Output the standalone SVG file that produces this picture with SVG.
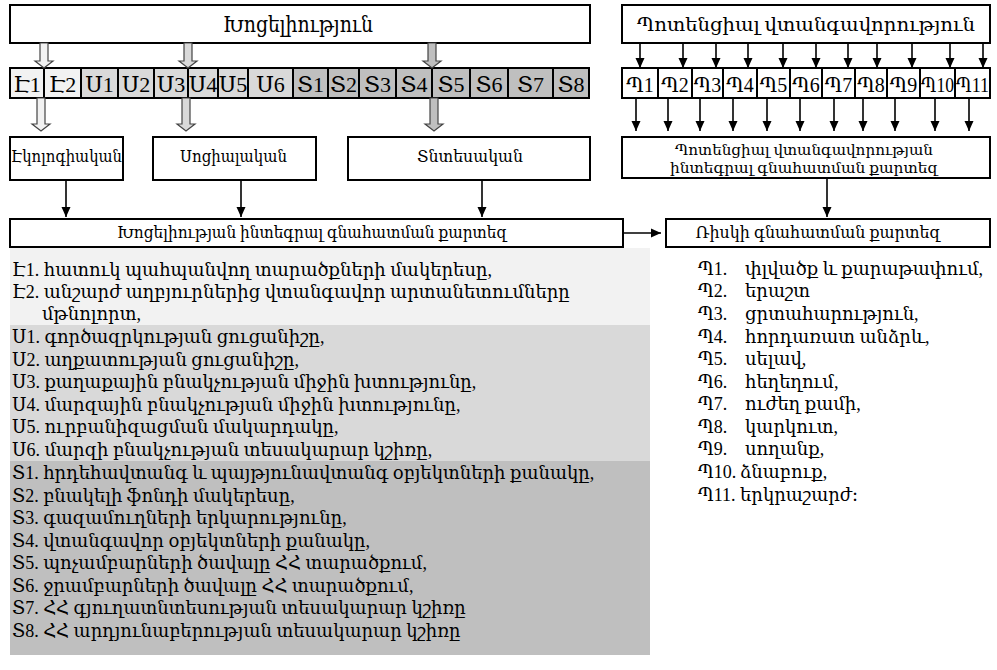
<svg xmlns="http://www.w3.org/2000/svg" width="997" height="670" viewBox="0 0 997 670">
<style>
text{font-family:"Liberation Serif","DejaVu Serif",serif;fill:#000}
.box{fill:#fff;stroke:#000;stroke-width:2}
.ce{fill:#f2f2f2;stroke:#000;stroke-width:2}
.cu{fill:#d9d9d9;stroke:#000;stroke-width:2}
.cs{fill:#bfbfbf;stroke:#000;stroke-width:2}
.cp{fill:#fff;stroke:#000;stroke-width:2}
.ct{font-size:22px;text-anchor:middle}
.pt{font-size:20px;text-anchor:middle}
.ln{stroke:#000;stroke-width:1.6;fill:none;marker-end:url(#ah)}
.ba{stroke:#444;stroke-width:1.2}
.li{font-size:18px}
</style>
<defs>
<marker id="ah" markerUnits="userSpaceOnUse" markerWidth="10" markerHeight="10" refX="10" refY="5" orient="auto">
<path d="M0,0.5 L10,5 L0,9.5 z" fill="#000"/>
</marker>
</defs>

<!-- list background bands -->
<rect x="10" y="248" width="640" height="77" fill="#f2f2f2"/>
<rect x="10" y="325" width="640" height="136" fill="#d9d9d9"/>
<rect x="10" y="461" width="640" height="194" fill="#bfbfbf"/>

<g id="vulnerability">
<rect class="box" x="10" y="5" width="580" height="38"/>
<text x="223" y="32" font-size="22" textLength="150" lengthAdjust="spacingAndGlyphs">Խոցելիություն</text>
</g>

<g id="hazard">
<rect class="box" x="622" y="5" width="368" height="38"/>
<text x="806" y="31" font-size="19" text-anchor="middle" textLength="338" lengthAdjust="spacingAndGlyphs">Պոտենցիալ վտանգավորություն</text>
</g>

<g id="indicators">
<rect class="ce" x="10" y="68" width="34" height="30"/><text class="ct" x="27" y="92">Է1</text>
<rect class="ce" x="44" y="68" width="37" height="30"/><text class="ct" x="62.5" y="92">Է2</text>
<rect class="cu" x="81" y="68" width="37" height="30"/><text class="ct" x="99.5" y="92">Ս1</text>
<rect class="cu" x="118" y="68" width="36" height="30"/><text class="ct" x="136" y="92">Ս2</text>
<rect class="cu" x="154" y="68" width="34" height="30"/><text class="ct" x="171" y="92">Ս3</text>
<rect class="cu" x="188" y="68" width="30" height="30"/><text class="ct" x="203" y="92">Ս4</text>
<rect class="cu" x="218" y="68" width="30" height="30"/><text class="ct" x="233" y="92">Ս5</text>
<rect class="cu" x="248" y="68" width="45" height="30"/><text class="ct" x="270.5" y="92">Ս6</text>
<rect class="cs" x="293" y="68" width="35" height="30"/><text class="ct" x="310.5" y="92">Տ1</text>
<rect class="cs" x="328" y="68" width="31" height="30"/><text class="ct" x="343.5" y="92">Տ2</text>
<rect class="cs" x="359" y="68" width="37" height="30"/><text class="ct" x="377.5" y="92">Տ3</text>
<rect class="cs" x="396" y="68" width="36" height="30"/><text class="ct" x="414" y="92">Տ4</text>
<rect class="cs" x="432" y="68" width="38" height="30"/><text class="ct" x="451" y="92">Տ5</text>
<rect class="cs" x="470" y="68" width="38" height="30"/><text class="ct" x="489" y="92">Տ6</text>
<rect class="cs" x="508" y="68" width="45" height="30"/><text class="ct" x="530.5" y="92">Տ7</text>
<rect class="cs" x="553" y="68" width="36" height="30"/><text class="ct" x="571" y="92">Տ8</text>
</g>

<g id="hazards">
<rect class="cp" x="622" y="68" width="36" height="30"/><text class="pt" x="640" y="92">Պ1</text>
<rect class="cp" x="658" y="68" width="34" height="30"/><text class="pt" x="675" y="92">Պ2</text>
<rect class="cp" x="692" y="68" width="31" height="30"/><text class="pt" x="707.5" y="92">Պ3</text>
<rect class="cp" x="723" y="68" width="34" height="30"/><text class="pt" x="740" y="92">Պ4</text>
<rect class="cp" x="757" y="68" width="33" height="30"/><text class="pt" x="773.5" y="92">Պ5</text>
<rect class="cp" x="790" y="68" width="32" height="30"/><text class="pt" x="806" y="92">Պ6</text>
<rect class="cp" x="822" y="68" width="33" height="30"/><text class="pt" x="838.5" y="92">Պ7</text>
<rect class="cp" x="855" y="68" width="32" height="30"/><text class="pt" x="871" y="92">Պ8</text>
<rect class="cp" x="887" y="68" width="33" height="30"/><text class="pt" x="903.5" y="92">Պ9</text>
<rect class="cp" x="920" y="68" width="35" height="30"/><text class="pt" x="937.5" y="92" textLength="33" lengthAdjust="spacingAndGlyphs">Պ10</text>
<rect class="cp" x="955" y="68" width="35" height="30"/><text class="pt" x="972.5" y="92" textLength="33" lengthAdjust="spacingAndGlyphs">Պ11</text>
</g>

<g id="ecological">
<rect class="box" x="10" y="137" width="113" height="43"/>
<text x="11" y="162" font-size="17" textLength="111" lengthAdjust="spacingAndGlyphs">Էկոլոգիական</text>
</g>
<g id="social">
<rect class="box" x="153" y="137" width="163" height="43"/>
<text x="180" y="162" font-size="17" textLength="107" lengthAdjust="spacingAndGlyphs">Սոցիալական</text>
</g>
<g id="economic">
<rect class="box" x="348" y="137" width="242" height="43"/>
<text x="417" y="162" font-size="17" textLength="106" lengthAdjust="spacingAndGlyphs">Տնտեսական</text>
</g>

<g id="hazard-map">
<rect class="box" x="622" y="137" width="368" height="41"/>
<text x="804" y="155" font-size="15.5" text-anchor="middle" textLength="258" lengthAdjust="spacingAndGlyphs">Պոտենցիալ վտանգավորության</text>
<text x="804" y="173" font-size="15.5" text-anchor="middle" textLength="268" lengthAdjust="spacingAndGlyphs">ինտեգրալ գնահատման քարտեզ</text>
</g>

<g id="vulnerability-map">
<rect class="box" x="10" y="219" width="613" height="28"/>
<text x="312" y="238" font-size="16" text-anchor="middle" textLength="390" lengthAdjust="spacingAndGlyphs">Խոցելիության ինտեգրալ գնահատման քարտեզ</text>
</g>

<g id="risk-map">
<rect class="box" x="666" y="219" width="324" height="28"/>
<text x="818" y="238" font-size="16" text-anchor="middle" textLength="245" lengthAdjust="spacingAndGlyphs">Ռիսկի գնահատման քարտեզ</text>
</g>

<g id="connectors">
<polygon class="ba" fill="#f2f2f2" points="40,43 48,43 48,61 53,61 44,68 35,61 40,61"/>
<polygon class="ba" fill="#d9d9d9" points="184,43 192,43 192,61 197,61 188,68 179,61 184,61"/>
<polygon class="ba" fill="#bfbfbf" points="428,43 436,43 436,61 441,61 432,68 423,61 428,61"/>
<polygon class="ba" fill="#f2f2f2" points="37,98 45,98 45,124 50,124 41,131 32,124 37,124"/>
<polygon class="ba" fill="#d9d9d9" points="182,98 190,98 190,124 195,124 186,131 177,124 182,124"/>
<polygon class="ba" fill="#bfbfbf" points="430,98 438,98 438,124 443,124 434,131 425,124 430,124"/>
<line class="ln" x1="640" y1="43" x2="640" y2="68"/>
<line class="ln" x1="683" y1="43" x2="683" y2="68"/>
<line class="ln" x1="716" y1="43" x2="716" y2="68"/>
<line class="ln" x1="748" y1="43" x2="748" y2="68"/>
<line class="ln" x1="783" y1="43" x2="783" y2="68"/>
<line class="ln" x1="816" y1="43" x2="816" y2="68"/>
<line class="ln" x1="848" y1="43" x2="848" y2="68"/>
<line class="ln" x1="877" y1="43" x2="877" y2="68"/>
<line class="ln" x1="912" y1="43" x2="912" y2="68"/>
<line class="ln" x1="950" y1="43" x2="950" y2="68"/>
<line class="ln" x1="983" y1="43" x2="983" y2="68"/>
<line class="ln" x1="636" y1="98" x2="636" y2="131"/>
<line class="ln" x1="668" y1="98" x2="668" y2="131"/>
<line class="ln" x1="700" y1="98" x2="700" y2="131"/>
<line class="ln" x1="733" y1="98" x2="733" y2="131"/>
<line class="ln" x1="767" y1="98" x2="767" y2="131"/>
<line class="ln" x1="800" y1="98" x2="800" y2="131"/>
<line class="ln" x1="834" y1="98" x2="834" y2="131"/>
<line class="ln" x1="863" y1="98" x2="863" y2="131"/>
<line class="ln" x1="895" y1="98" x2="895" y2="131"/>
<line class="ln" x1="935" y1="98" x2="935" y2="131"/>
<line class="ln" x1="969" y1="98" x2="969" y2="131"/>
<line class="ln" x1="66" y1="180" x2="66" y2="217"/>
<line class="ln" x1="241" y1="180" x2="241" y2="217"/>
<line class="ln" x1="482" y1="180" x2="482" y2="217"/>
<line class="ln" x1="827" y1="178" x2="827" y2="217"/>
<line class="ln" x1="623" y1="233" x2="661" y2="233"/>
</g>

<g id="vulnerability-list">
<text class="li" x="12" y="276">Է1. հատուկ պահպանվող տարածքների մակերեսը,</text>
<text class="li" x="12" y="298">Է2. անշարժ աղբյուրներից վտանգավոր արտանետումները</text>
<text class="li" x="42" y="320">մթնոլորտ,</text>
<text class="li" x="12" y="343">Ս1. գործազրկության ցուցանիշը,</text>
<text class="li" x="12" y="366">Ս2. աղքատության ցուցանիշը,</text>
<text class="li" x="12" y="388">Ս3. քաղաքային բնակչության միջին խտությունը,</text>
<text class="li" x="12" y="411">Ս4. մարզային բնակչության միջին խտությունը,</text>
<text class="li" x="12" y="433">Ս5. ուրբանիզացման մակարդակը,</text>
<text class="li" x="12" y="456">Ս6. մարզի բնակչության տեսակարար կշիռը,</text>
<text class="li" x="12" y="479">Տ1. հրդեհավտանգ և պայթյունավտանգ օբյեկտների քանակը,</text>
<text class="li" x="12" y="502">Տ2. բնակելի ֆոնդի մակերեսը,</text>
<text class="li" x="12" y="524">Տ3. գազամուղների երկարությունը,</text>
<text class="li" x="12" y="547">Տ4. վտանգավոր օբյեկտների քանակը,</text>
<text class="li" x="12" y="569">Տ5. պոչամբարների ծավալը ՀՀ տարածքում,</text>
<text class="li" x="12" y="592">Տ6. ջրամբարների ծավալը ՀՀ տարածքում,</text>
<text class="li" x="12" y="614">Տ7. ՀՀ գյուղատնտեսության տեսակարար կշիռը</text>
<text class="li" x="12" y="637">Տ8. ՀՀ արդյունաբերության տեսակարար կշիռը</text>
</g>

<g id="hazard-list">
<text class="li" x="698" y="275">Պ1.</text><text class="li" x="745" y="275">փլվածք և քարաթափում,</text>
<text class="li" x="698" y="297">Պ2.</text><text class="li" x="745" y="297">երաշտ</text>
<text class="li" x="698" y="320">Պ3.</text><text class="li" x="745" y="320">ցրտահարություն,</text>
<text class="li" x="698" y="343">Պ4.</text><text class="li" x="745" y="343">հորդառատ անձրև,</text>
<text class="li" x="698" y="365">Պ5.</text><text class="li" x="745" y="365">սելավ,</text>
<text class="li" x="698" y="388">Պ6.</text><text class="li" x="745" y="388">հեղեղում,</text>
<text class="li" x="698" y="410">Պ7.</text><text class="li" x="745" y="410">ուժեղ քամի,</text>
<text class="li" x="698" y="433">Պ8.</text><text class="li" x="745" y="433">կարկուտ,</text>
<text class="li" x="698" y="455">Պ9.</text><text class="li" x="745" y="455">սողանք,</text>
<text class="li" x="698" y="478">Պ10.</text><text class="li" x="740" y="478">ձնաբուք,</text>
<text class="li" x="698" y="501">Պ11.</text><text class="li" x="740" y="501">երկրաշարժ։</text>
</g>
</svg>
